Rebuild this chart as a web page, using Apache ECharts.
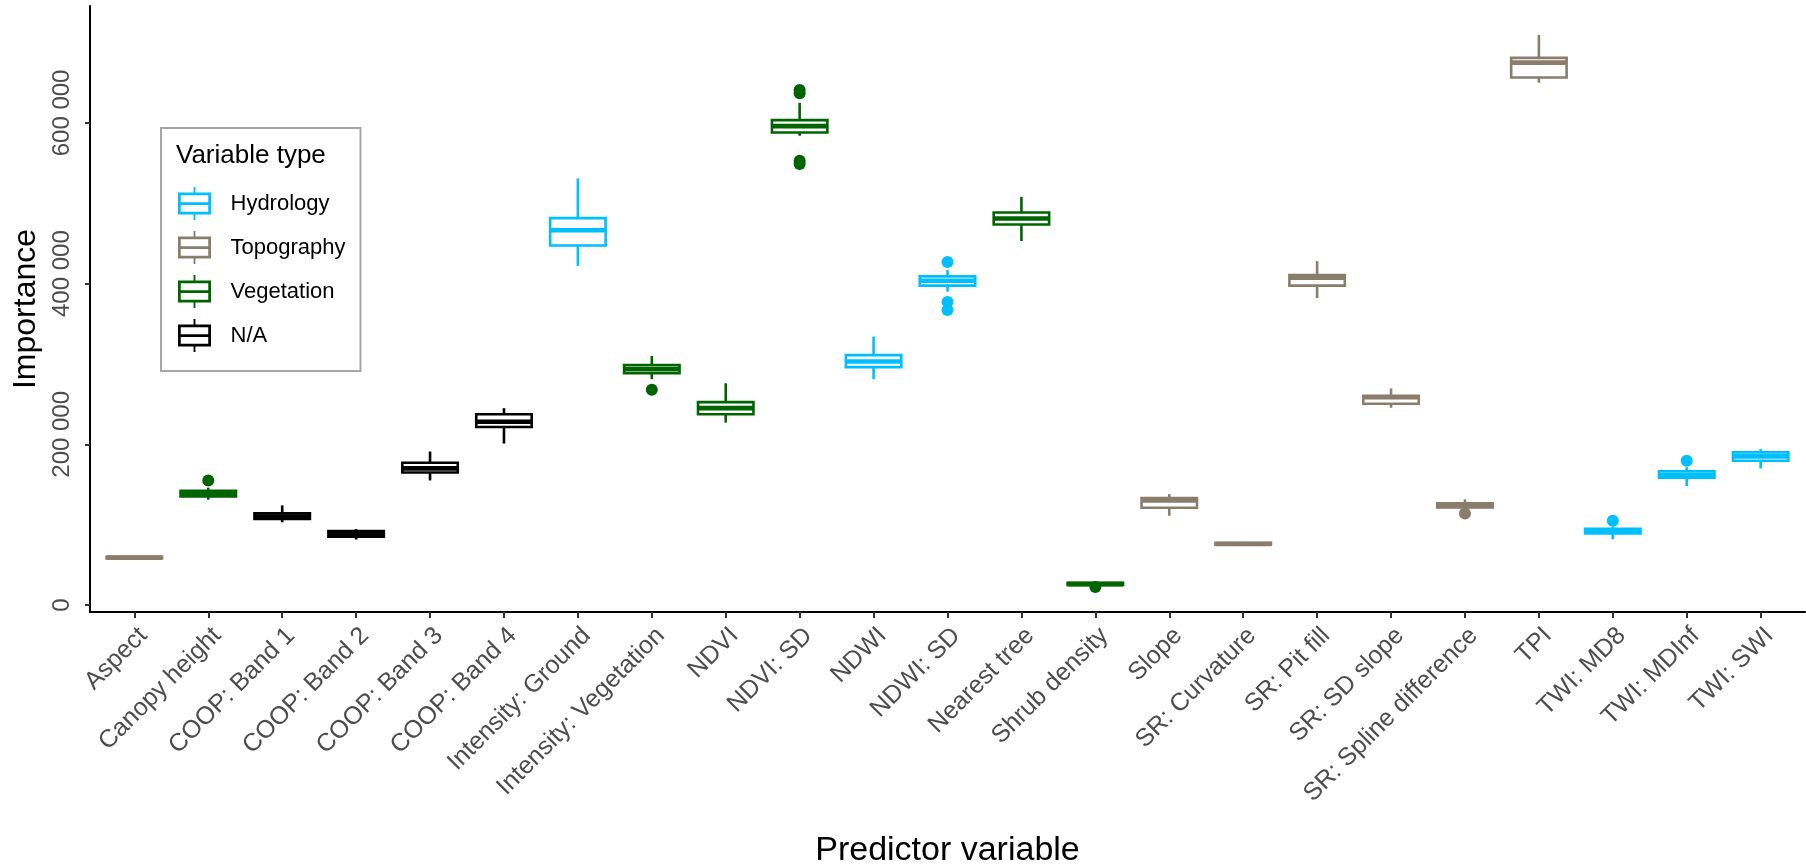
<!DOCTYPE html>
<html>
<head>
<meta charset="utf-8">
<script src="https://cdn.jsdelivr.net/npm/echarts@6/dist/echarts.min.js"></script>
<style>
html,body{margin:0;padding:0;background:#fff;}
#chart{width:1806px;height:865px;}
</style>
</head>
<body>
<div id="chart"></div>
<script>
// ---- data ----
const categories = ['Aspect','Canopy height','COOP: Band 1','COOP: Band 2','COOP: Band 3','COOP: Band 4',
  'Intensity: Ground','Intensity: Vegetation','NDVI','NDVI: SD','NDWI','NDWI: SD','Nearest tree',
  'Shrub density','Slope','SR: Curvature','SR: Pit fill','SR: SD slope','SR: Spline difference','TPI',
  'TWI: MD8','TWI: MDInf','TWI: SWI'];
const variableType = ['Topography','Vegetation','N/A','N/A','N/A','N/A',
  'Hydrology','Vegetation','Vegetation','Vegetation','Hydrology','Hydrology','Vegetation',
  'Vegetation','Topography','Topography','Topography','Topography','Topography','Topography',
  'Hydrology','Hydrology','Hydrology'];
const whiskerLow  = [57000,131000,103000,81500,155000,201000,422000,281000,227000,584000,281000,390000,453000,24000,111000,74000,382000,245500,120000,650000,82000,148000,170000];
const quartile1   = [58000,135000,107000,85000,165000,221500,447500,288500,237500,588000,296000,397500,473500,25000,121000,75000,397500,250500,121500,656500,89000,158500,179500];
const medianVal   = [59000,138000,110000,88000,170000,228000,466500,293500,245000,596000,303000,403500,481000,26000,130000,76000,407500,258500,125000,675000,92000,162000,185000];
const quartile3   = [60000,142000,114000,92000,177000,237500,481500,298500,252500,603500,311000,409000,488500,27500,133000,77500,410500,260500,126500,681000,95000,166500,190000];
const whiskerHigh = [61000,146000,124000,94500,191000,245000,531000,310000,276000,625000,334000,417000,508000,28500,138000,78500,428000,269500,131500,709500,97500,171500,194000];
const outlierCategory = ['Canopy height','Intensity: Vegetation','NDVI: SD','NDVI: SD','NDVI: SD','NDVI: SD',
  'NDWI: SD','NDWI: SD','NDWI: SD','Shrub density','SR: Spline difference','TWI: MD8','TWI: MDInf'];
const outlierValue = [155000,268000,641000,637000,553000,549000,427000,377000,367000,22500,114000,105000,179500];
const typeNames = ['Hydrology','Topography','Vegetation','N/A'];
const yTicks = [0,200000,400000,600000];

// ---- styles ----
const typeColors = {'Hydrology':'#00BFFF','Topography':'#8B7D6B','Vegetation':'#006400','N/A':'#000000'};
const FONT = "'Liberation Sans', Arial, Helvetica, sans-serif";
const boxIcon = 'path://M17,0H19V6H17Z M0,6H36V30H0Z M3,9V16.5H33V9Z M3,19.5V27H33V19.5Z M17,30H19V36H17Z';

function fmt(v){ return String(v).replace(/\B(?=(\d{3})+(?!\d))/g,' '); }

function renderBox(params, api){
  const x = api.value(0);
  const pLo = api.coord([x, api.value(1)]);
  const pQ1 = api.coord([x, api.value(2)]);
  const pMed = api.coord([x, api.value(3)]);
  const pQ3 = api.coord([x, api.value(4)]);
  const pHi = api.coord([x, api.value(5)]);
  const half = api.size([0.75, 0])[0] / 2;
  const color = api.visual('color');
  const cx = pMed[0];
  return {
    type:'group',
    children:[
      {type:'line', shape:{x1:cx,y1:pHi[1],x2:cx,y2:pQ3[1]}, style:{stroke:color,lineWidth:2.6}},
      {type:'line', shape:{x1:cx,y1:pQ1[1],x2:cx,y2:pLo[1]}, style:{stroke:color,lineWidth:2.6}},
      {type:'rect', shape:{x:cx-half,y:pQ3[1],width:2*half,height:pQ1[1]-pQ3[1]}, style:{fill:'#fff',stroke:color,lineWidth:2.6}},
      {type:'line', shape:{x1:cx-half,y1:pMed[1],x2:cx+half,y2:pMed[1]}, style:{stroke:color,lineWidth:4.6}}
    ]
  };
}

const series = [];
typeNames.forEach(t => {
  const data = [];
  categories.forEach((c,i) => {
    if (variableType[i] === t) data.push([i, whiskerLow[i], quartile1[i], medianVal[i], quartile3[i], whiskerHigh[i]]);
  });
  series.push({
    type:'custom', name:t, renderItem:renderBox, data:data,
    itemStyle:{color:typeColors[t]},
    encode:{x:0, y:[1,2,3,4,5]}, z:2
  });
});
typeNames.forEach(t => {
  const data = [];
  outlierCategory.forEach((c,k) => {
    const i = categories.indexOf(c);
    if (variableType[i] === t) data.push([i, outlierValue[k]]);
  });
  series.push({
    type:'scatter', name:t, data:data, symbol:'circle', symbolSize:12,
    itemStyle:{color:typeColors[t], opacity:1}, z:3
  });
});

const catTicks = categories.map((c,i)=>i);

const option = {
  animation:false,
  textStyle:{fontFamily:FONT},
  title:{
    text:'Variable type', left:176, top:143, padding:0,
    textStyle:{fontSize:26, fontWeight:'normal', color:'#000', fontFamily:FONT}
  },
  legend:{
    orient:'vertical', left:161, top:128,
    padding:[59,15,19,17],
    itemWidth:36, itemHeight:33, itemGap:11,
    borderColor:'#a6a6a6', borderWidth:2, backgroundColor:'#fff',
    textStyle:{fontSize:22, color:'#000', fontFamily:FONT, padding:[0,0,0,13]},
    data: typeNames.map(n => ({name:n, icon:boxIcon})),
    selectedMode:false
  },
  grid:{left:90, right:1, top:6, bottom:253, containLabel:false, outerBoundsMode:'none'},
  xAxis:{
    type:'value', min:-0.6, max:22.6,
    splitLine:{show:false},
    axisLine:{show:true, onZero:false, lineStyle:{color:'#000', width:2}},
    axisTick:{show:true, length:6, customValues:catTicks, lineStyle:{color:'#333', width:2}},
    axisLabel:{
      customValues:catTicks, rotate:45, margin:11,
      align:'right', verticalAlign:'top',
      formatter: v => categories[Math.round(v)],
      fontSize:25, color:'#4d4d4d', fontFamily:FONT
    },
    name:'Predictor variable', nameLocation:'middle', nameGap:222,
    nameTextStyle:{fontSize:34, color:'#000', fontFamily:FONT}
  },
  yAxis:{
    type:'value', min:-8700, max:745500,
    splitLine:{show:false},
    axisLine:{show:true, onZero:false, lineStyle:{color:'#000', width:2}},
    axisTick:{show:true, length:5, customValues:yTicks, lineStyle:{color:'#333', width:2}},
    axisLabel:{
      customValues:yTicks, rotate:90, margin:16,
      formatter: v => v === 0 ? '{z|0}' : '{n|' + fmt(v) + '}',
      fontSize:24, color:'#4d4d4d', fontFamily:FONT,
      rich:{
        z:{fontSize:24, color:'#4d4d4d', fontFamily:FONT},
        n:{fontSize:24, color:'#4d4d4d', fontFamily:FONT, padding:[0,0,0,20]}
      }
    },
    name:'Importance', nameLocation:'middle', nameGap:38, nameRotate:90,
    nameTextStyle:{fontSize:32, color:'#000', fontFamily:FONT}
  },
  series: series
};

const chart = echarts.init(document.getElementById('chart'), null, {renderer:'canvas'});
chart.setOption(option);
</script>
</body>
</html>
